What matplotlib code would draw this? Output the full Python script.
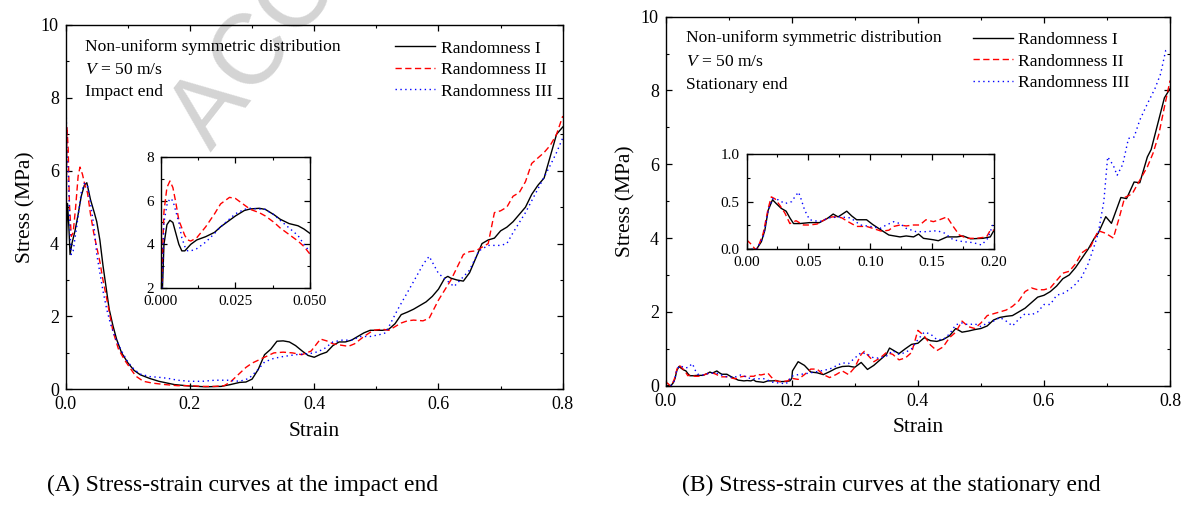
import matplotlib
matplotlib.use('Agg')
from matplotlib import pyplot as plt
from matplotlib.ticker import MultipleLocator

plt.rcParams['font.family'] = ['Liberation Serif', 'DejaVu Serif']
plt.rcParams['mathtext.fontset'] = 'custom'
plt.rcParams['mathtext.rm'] = 'Liberation Serif'
plt.rcParams['mathtext.it'] = 'Liberation Serif:italic'

labels = ['Randomness I', 'Randomness II', 'Randomness III']

# (A) impact end, main plot
a_strain_1 = [0, 0.001, 0.003, 0.005, 0.007, 0.010, 0.015, 0.020, 0.025, 0.030, 0.034, 0.040, 0.046, 0.050,
              0.055, 0.060, 0.065, 0.070, 0.076, 0.082, 0.090, 0.100, 0.110, 0.120, 0.135, 0.150, 0.175, 0.200,
              0.225, 0.250, 0.265, 0.280, 0.290, 0.300, 0.310, 0.320, 0.330, 0.340, 0.350, 0.360, 0.370, 0.380,
              0.390, 0.400, 0.410, 0.420, 0.430, 0.440, 0.450, 0.460, 0.470, 0.480, 0.490, 0.500, 0.510, 0.520,
              0.530, 0.540, 0.550, 0.560, 0.570, 0.580, 0.590, 0.600, 0.610, 0.615, 0.620, 0.630, 0.640, 0.650,
              0.660, 0.670, 0.680, 0.690, 0.700, 0.710, 0.720, 0.730, 0.740, 0.750, 0.760, 0.770, 0.780, 0.790, 0.800]
a_stress_1 = [0, 4.0, 5.1, 4.5, 3.7, 4.0, 4.35, 4.8, 5.3, 5.6, 5.67, 5.2, 4.85, 4.6,
              4.1, 3.4, 2.8, 2.2, 1.75, 1.37, 1.0, 0.73, 0.52, 0.4, 0.3, 0.22, 0.13, 0.09,
              0.07, 0.08, 0.13, 0.19, 0.2, 0.28, 0.55, 0.95, 1.1, 1.32, 1.33, 1.3, 1.2, 1.06,
              0.93, 0.88, 0.96, 1.02, 1.2, 1.3, 1.3, 1.35, 1.45, 1.55, 1.62, 1.62, 1.62, 1.65,
              1.8, 2.05, 2.12, 2.2, 2.3, 2.4, 2.55, 2.75, 3.05, 3.1, 3.05, 3.0, 2.97, 3.2,
              3.6, 4.0, 4.1, 4.15, 4.35, 4.45, 4.6, 4.8, 5.0, 5.35, 5.6, 5.8, 6.4, 7.0, 7.2]
a_strain_2 = [0, 0.0005, 0.002, 0.004, 0.006, 0.009, 0.012, 0.016, 0.020, 0.023, 0.027, 0.031, 0.035, 0.040,
              0.045, 0.050, 0.055, 0.060, 0.067, 0.076, 0.085, 0.095, 0.105, 0.113, 0.125, 0.140, 0.160, 0.180,
              0.200, 0.220, 0.240, 0.255, 0.265, 0.275, 0.290, 0.300, 0.320, 0.335, 0.350, 0.365, 0.380, 0.395,
              0.410, 0.420, 0.430, 0.440, 0.455, 0.465, 0.480, 0.495, 0.510, 0.520, 0.530, 0.540, 0.550, 0.560,
              0.575, 0.585, 0.600, 0.620, 0.640, 0.650, 0.660, 0.680, 0.690, 0.700, 0.710, 0.720, 0.730, 0.740,
              0.750, 0.760, 0.770, 0.780, 0.790, 0.800]
a_stress_2 = [0, 4.0, 7.2, 6.6, 5.1, 4.2, 4.3, 5.0, 5.85, 6.1, 5.9, 5.6, 5.4, 4.8,
              4.3, 3.9, 3.5, 3.0, 2.4, 1.6, 1.1, 0.8, 0.55, 0.36, 0.22, 0.17, 0.13, 0.1,
              0.1, 0.08, 0.08, 0.1, 0.2, 0.36, 0.6, 0.72, 0.88, 1.0, 1.02, 1.0, 0.95, 1.05,
              1.38, 1.33, 1.25, 1.22, 1.18, 1.25, 1.45, 1.62, 1.65, 1.62, 1.72, 1.82, 1.88, 1.9,
              1.88, 1.95, 2.45, 3.0, 3.7, 3.78, 3.8, 4.0, 4.85, 4.9, 5.0, 5.3, 5.4, 5.7,
              6.2, 6.35, 6.5, 6.7, 7.0, 7.5]
a_strain_3 = [0, 0.0005, 0.002, 0.004, 0.007, 0.009, 0.012, 0.018, 0.025, 0.030, 0.035, 0.040, 0.046, 0.050,
              0.055, 0.060, 0.066, 0.072, 0.080, 0.090, 0.100, 0.110, 0.120, 0.135, 0.150, 0.165, 0.180, 0.200,
              0.220, 0.240, 0.260, 0.280, 0.295, 0.310, 0.320, 0.335, 0.350, 0.370, 0.390, 0.400, 0.415, 0.430,
              0.445, 0.460, 0.475, 0.490, 0.505, 0.515, 0.534, 0.558, 0.576, 0.585, 0.600, 0.625, 0.650, 0.665,
              0.680, 0.700, 0.710, 0.720, 0.740, 0.760, 0.780, 0.790, 0.800]
a_stress_3 = [0, 8.0, 6.5, 6.0, 4.3, 3.7, 3.8, 4.5, 5.4, 5.65, 5.6, 5.1, 4.4, 3.7,
              3.2, 2.7, 2.2, 1.8, 1.4, 1.05, 0.75, 0.55, 0.42, 0.35, 0.33, 0.3, 0.25, 0.22,
              0.22, 0.25, 0.25, 0.22, 0.3, 0.55, 0.75, 0.85, 0.9, 0.95, 0.98, 1.0, 1.1, 1.3,
              1.35, 1.35, 1.45, 1.45, 1.5, 1.55, 2.18, 2.9, 3.45, 3.65, 3.18, 2.82, 3.27, 3.8,
              3.95, 3.95, 4.0, 4.3, 4.85, 5.5, 6.15, 6.5, 6.9]

# (A) inset, strain 0 - 0.05
ai_strain_1 = [0, 0.001, 0.002, 0.003, 0.004, 0.005, 0.006, 0.007, 0.008, 0.010, 0.012, 0.015, 0.018, 0.020,
               0.025, 0.028, 0.030, 0.033, 0.035, 0.038, 0.040, 0.043, 0.046, 0.048, 0.050]
ai_stress_1 = [0, 4.0, 4.9, 5.1, 5.0, 4.5, 4.0, 3.7, 3.7, 4.0, 4.2, 4.35, 4.55, 4.8,
               5.3, 5.55, 5.62, 5.65, 5.6, 5.35, 5.15, 4.95, 4.85, 4.7, 4.5]
ai_strain_2 = [0, 0.0005, 0.001, 0.002, 0.003, 0.004, 0.005, 0.006, 0.008, 0.009, 0.010, 0.012, 0.015, 0.018,
               0.020, 0.023, 0.025, 0.027, 0.030, 0.033, 0.035, 0.038, 0.040, 0.043, 0.046, 0.048, 0.050]
ai_stress_2 = [0, 3.5, 5.5, 6.6, 6.9, 6.6, 5.9, 5.1, 4.4, 4.2, 4.15, 4.3, 4.8, 5.4,
               5.85, 6.15, 6.1, 5.9, 5.6, 5.45, 5.3, 5.0, 4.75, 4.45, 4.15, 3.9, 3.55]
ai_strain_3 = [0, 0.001, 0.002, 0.003, 0.004, 0.005, 0.006, 0.007, 0.008, 0.009, 0.010, 0.012, 0.015, 0.018,
               0.020, 0.025, 0.028, 0.030, 0.035, 0.038, 0.040, 0.043, 0.046, 0.048, 0.050]
ai_stress_3 = [0, 5.0, 5.8, 6.1, 6.0, 5.5, 5.0, 4.3, 3.9, 3.7, 3.7, 3.8, 4.1, 4.5,
               4.8, 5.4, 5.6, 5.65, 5.6, 5.35, 5.1, 4.75, 4.4, 4.0, 3.65]

# (B) stationary end, strain 0 - 0.2 (inset data, also start of main curves)
b_low_strain_1 = [0, 0.008, 0.012, 0.0148, 0.0175, 0.021, 0.024, 0.028, 0.032, 0.035, 0.038, 0.043, 0.051, 0.059,
                  0.066, 0.070, 0.074, 0.081, 0.085, 0.089, 0.097, 0.102, 0.109, 0.115, 0.124, 0.129, 0.135, 0.139,
                  0.143, 0.151, 0.155, 0.162, 0.170, 0.175, 0.181, 0.191, 0.197, 0.200]
b_low_stress_1 = [0, 0, 0.08, 0.2, 0.41, 0.52, 0.48, 0.43, 0.40, 0.33, 0.27, 0.27, 0.28, 0.28,
                  0.33, 0.37, 0.34, 0.40, 0.35, 0.31, 0.31, 0.26, 0.20, 0.15, 0.13, 0.14, 0.13, 0.16,
                  0.115, 0.10, 0.09, 0.13, 0.13, 0.14, 0.11, 0.115, 0.13, 0.2]
b_low_strain_2 = [0, 0.004, 0.007, 0.009, 0.0135, 0.0175, 0.020, 0.023, 0.027, 0.031, 0.035, 0.040, 0.046, 0.051,
                  0.057, 0.063, 0.069, 0.073, 0.077, 0.082, 0.089, 0.097, 0.102, 0.109, 0.115, 0.119, 0.124, 0.129,
                  0.135, 0.140, 0.145, 0.151, 0.156, 0.162, 0.167, 0.172, 0.178, 0.186, 0.194, 0.197, 0.200]
b_low_stress_2 = [0.1, 0.05, 0, 0.01, 0.17, 0.43, 0.55, 0.53, 0.46, 0.38, 0.27, 0.30, 0.255, 0.255,
                  0.265, 0.31, 0.34, 0.34, 0.33, 0.29, 0.24, 0.24, 0.22, 0.19, 0.2, 0.24, 0.255, 0.245,
                  0.255, 0.255, 0.31, 0.29, 0.31, 0.34, 0.24, 0.15, 0.115, 0.115, 0.13, 0.2, 0.2]
b_low_strain_3 = [0, 0.008, 0.0135, 0.0175, 0.021, 0.0255, 0.031, 0.0365, 0.039, 0.042, 0.044, 0.047, 0.051, 0.059,
                  0.067, 0.075, 0.084, 0.092, 0.100, 0.108, 0.113, 0.119, 0.124, 0.129, 0.137, 0.145, 0.154, 0.160,
                  0.167, 0.175, 0.183, 0.190, 0.195, 0.199]
b_low_stress_3 = [0, 0, 0.13, 0.41, 0.53, 0.52, 0.48, 0.5, 0.55, 0.6, 0.53, 0.41, 0.31, 0.29,
                  0.33, 0.34, 0.33, 0.255, 0.24, 0.22, 0.255, 0.29, 0.27, 0.22, 0.185, 0.185, 0.195, 0.17,
                  0.10, 0.08, 0.07, 0.045, 0.115, 0.255]

# (B) strain 0.2 - 0.8
b_high_strain_1 = [0.201, 0.210, 0.220, 0.230, 0.240, 0.250, 0.260, 0.270, 0.280, 0.290, 0.300, 0.310, 0.320,
                   0.330, 0.340, 0.350, 0.355, 0.370, 0.380, 0.390, 0.400, 0.410, 0.420, 0.430, 0.440, 0.450,
                   0.460, 0.470, 0.480, 0.490, 0.500, 0.510, 0.520, 0.530, 0.540, 0.550, 0.560, 0.570, 0.580,
                   0.590, 0.600, 0.610, 0.620, 0.630, 0.640, 0.650, 0.660, 0.670, 0.680, 0.686, 0.698, 0.707,
                   0.722, 0.731, 0.743, 0.752, 0.764, 0.770, 0.782, 0.791, 0.800]
b_high_stress_1 = [0.4, 0.65, 0.55, 0.37, 0.35, 0.3, 0.38, 0.47, 0.52, 0.53, 0.5, 0.63, 0.44,
                   0.55, 0.7, 0.85, 1.02, 0.87, 1.0, 1.12, 1.15, 1.3, 1.22, 1.2, 1.25, 1.35,
                   1.55, 1.45, 1.48, 1.52, 1.55, 1.62, 1.78, 1.85, 1.88, 1.9, 2.0, 2.1, 2.25,
                   2.4, 2.45, 2.55, 2.7, 2.9, 3.0, 3.2, 3.45, 3.7, 4.0, 4.13, 4.58, 4.4,
                   5.1, 5.07, 5.52, 5.5, 6.2, 6.4, 7.2, 7.8, 8.05]
b_high_strain_2 = [0.210, 0.220, 0.230, 0.240, 0.250, 0.260, 0.270, 0.280, 0.290, 0.300, 0.310, 0.315, 0.330,
                   0.340, 0.350, 0.360, 0.370, 0.380, 0.390, 0.400, 0.410, 0.420, 0.430, 0.440, 0.450, 0.460,
                   0.470, 0.480, 0.490, 0.500, 0.510, 0.520, 0.530, 0.540, 0.550, 0.560, 0.570, 0.580, 0.590,
                   0.600, 0.610, 0.620, 0.630, 0.640, 0.650, 0.660, 0.674, 0.686, 0.698, 0.710, 0.719, 0.728,
                   0.740, 0.752, 0.764, 0.773, 0.782, 0.791, 0.800]
b_high_stress_2 = [0.17, 0.3, 0.45, 0.45, 0.3, 0.22, 0.3, 0.4, 0.3, 0.5, 0.85, 0.93, 0.65,
                   0.75, 0.9, 0.85, 0.7, 0.75, 0.9, 1.5, 1.35, 1.1, 0.95, 1.05, 1.3, 1.45,
                   1.75, 1.6, 1.55, 1.7, 1.9, 1.95, 2.0, 2.05, 2.15, 2.3, 2.55, 2.65, 2.6,
                   2.6, 2.65, 2.85, 3.05, 3.1, 3.3, 3.6, 3.77, 4.2, 4.13, 4.0, 4.53, 5.1,
                   5.2, 5.57, 5.93, 6.3, 6.8, 7.55, 8.27]
b_high_strain_3 = [0.210, 0.220, 0.240, 0.260, 0.280, 0.290, 0.300, 0.310, 0.320, 0.330, 0.340, 0.350, 0.360,
                   0.370, 0.380, 0.390, 0.400, 0.410, 0.420, 0.430, 0.440, 0.450, 0.460, 0.470, 0.480, 0.490,
                   0.500, 0.510, 0.520, 0.530, 0.540, 0.550, 0.560, 0.570, 0.580, 0.590, 0.600, 0.610, 0.620,
                   0.630, 0.640, 0.650, 0.660, 0.670, 0.680, 0.686, 0.695, 0.701, 0.710, 0.716, 0.725, 0.734,
                   0.743, 0.752, 0.764, 0.776, 0.785, 0.793, 0.795]
b_high_stress_3 = [0.3, 0.32, 0.38, 0.45, 0.62, 0.6, 0.75, 0.9, 0.85, 0.75, 0.75, 0.8, 0.95,
                   0.85, 0.9, 1.0, 1.25, 1.45, 1.4, 1.25, 1.25, 1.4, 1.65, 1.7, 1.65, 1.68,
                   1.6, 1.7, 1.75, 1.85, 1.75, 1.62, 1.8, 1.95, 1.92, 2.0, 2.2, 2.2, 2.45,
                   2.5, 2.6, 2.75, 2.95, 3.3, 3.8, 4.13, 5.0, 6.2, 5.97, 5.7, 6.0, 6.7,
                   6.74, 7.2, 7.64, 8.05, 8.45, 9.08, 9.1]

styles = [dict(color='black', lw=1.0, ls='-'),
          dict(color='red', lw=1.0, ls=(0, (4.5, 2.5))),
          dict(color='blue', lw=1.0, ls=(0, (1, 2.5)))]


def style_axes(ax, xmaj, xmin, ymaj, ymin, size):
    ax.set_facecolor('none')
    ax.xaxis.set_major_locator(MultipleLocator(xmaj))
    ax.xaxis.set_minor_locator(MultipleLocator(xmin))
    ax.yaxis.set_major_locator(MultipleLocator(ymaj))
    ax.yaxis.set_minor_locator(MultipleLocator(ymin))
    ax.tick_params(which='both', direction='in', top=True, right=True, labelsize=size, pad=5)
    ax.tick_params(which='major', length=4, width=0.9)
    ax.tick_params(which='minor', length=2.5, width=0.8)
    for s in ax.spines.values():
        s.set_linewidth(1.0)


fig = plt.figure(figsize=(11.88, 5.12), dpi=100)

# faint watermark, as on the source page
fig.text(0.178, 0.703, 'ACCEPTED MANUSCRIPT', family='Liberation Sans', fontsize=72,
         color='#d4d4d4', rotation=52, rotation_mode='anchor', ha='left', va='baseline', zorder=-5)

ax_a = fig.add_axes([0.0553, 0.2396, 0.4184, 0.7116])
ax_b = fig.add_axes([0.5604, 0.2467, 0.4245, 0.7207])
in_a = fig.add_axes([0.1355, 0.4375, 0.1254, 0.2559])
in_b = fig.add_axes([0.6284, 0.5131, 0.2083, 0.1861])

a_main = [(a_strain_1, a_stress_1), (a_strain_2, a_stress_2), (a_strain_3, a_stress_3)]
a_ins = [(ai_strain_1, ai_stress_1), (ai_strain_2, ai_stress_2), (ai_strain_3, ai_stress_3)]
b_low = [(b_low_strain_1, b_low_stress_1), (b_low_strain_2, b_low_stress_2), (b_low_strain_3, b_low_stress_3)]
b_high = [(b_high_strain_1, b_high_stress_1), (b_high_strain_2, b_high_stress_2),
          (b_high_strain_3, b_high_stress_3)]

for (x, y), st, lab in zip(a_main, styles, labels):
    ax_a.plot(x, y, label=lab, **st)
for (x, y), st in zip(a_ins, styles):
    in_a.plot(x, y, **st)
for (xl, yl), (xh, yh), st, lab in zip(b_low, b_high, styles, labels):
    ax_b.plot(xl + xh, yl + yh, label=lab, **st)
    in_b.plot(xl, yl, **st)

for ax in (ax_a, ax_b):
    ax.set_xlim(0, 0.8)
    ax.set_ylim(0, 10)
    style_axes(ax, 0.2, 0.1, 2, 1, 13)
    ax.set_xlabel('Strain', fontsize=15.5, labelpad=6)
    ax.set_ylabel('Stress (MPa)', fontsize=15.5, labelpad=4)

in_a.set_xlim(0, 0.05)
in_a.set_ylim(2, 8)
style_axes(in_a, 0.025, 0.0125, 2, 1, 11)
in_a.xaxis.set_major_formatter(lambda v, p: f'{v:.3f}')
in_a.yaxis.set_major_formatter(lambda v, p: f'{v:.0f}')

in_b.set_xlim(0, 0.2)
in_b.set_ylim(0, 1.0)
style_axes(in_b, 0.05, 0.025, 0.5, 0.25, 11)
in_b.xaxis.set_major_formatter(lambda v, p: f'{v:.2f}')
in_b.yaxis.set_major_formatter(lambda v, p: f'{v:.1f}')

notes = {ax_a: (0.0396, [0.9404, 0.8762, 0.8147], 'Impact end', 0.6626, 0.958),
         ax_b: (0.0403, [0.9415, 0.8778, 0.8150], 'Stationary end', 0.609, 0.959)}
for ax, (tx, ys, end, lx, ly) in notes.items():
    ax.text(tx, ys[0], 'Non-uniform symmetric distribution', transform=ax.transAxes, fontsize=12.6, va='center')
    ax.text(tx, ys[1], '$V$ = 50 m/s', transform=ax.transAxes, fontsize=12.6, va='center')
    ax.text(tx, ys[2], end, transform=ax.transAxes, fontsize=12.6, va='center')
    ax.legend(loc='upper left', bbox_to_anchor=(lx, ly), frameon=False, fontsize=12.6, handlelength=2.3,
              handletextpad=0.3, labelspacing=0.3, borderaxespad=0, borderpad=0)

fig.text(0.204, 0.052, '(A) Stress-strain curves at the impact end', fontsize=17, ha='center', va='center')
fig.text(0.750, 0.052, '(B) Stress-strain curves at the stationary end', fontsize=17, ha='center', va='center')

fig.savefig('out.png', dpi=100)
